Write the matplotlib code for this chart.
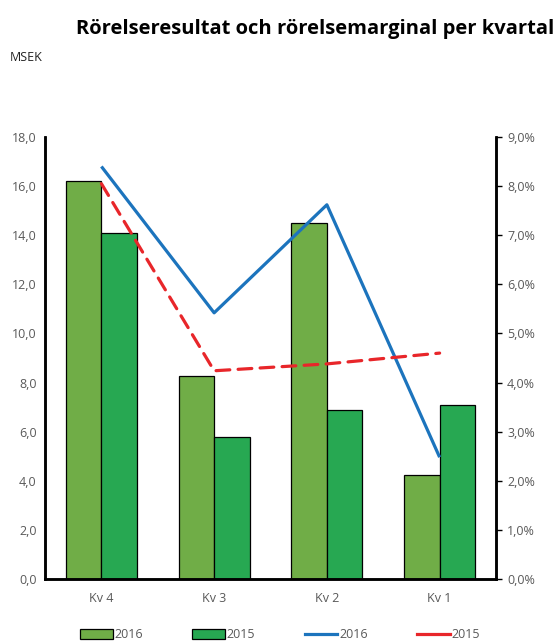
import numpy as np
import matplotlib.pyplot as plt
from matplotlib.lines import Line2D
from matplotlib.patches import Patch

# Data
kvartal = ['Kv 4', 'Kv 3', 'Kv 2', 'Kv 1']
resultat_2016 = [16.2, 8.25, 14.5, 4.25]
resultat_2015 = [14.1, 5.8, 6.9, 7.1]
marginal_2016 = [8.4, 5.42, 7.62, 2.48]
marginal_2015 = [8.05, 4.24, 4.38, 4.6]

green16 = '#70ad47'
green15 = '#27a852'
blue = '#1c74bd'
red = '#e8262a'
grey = '#595959'

plt.rcParams['font.family'] = ['Open Sans', 'DejaVu Sans']

fig = plt.figure(figsize=(5.6, 6.42), dpi=100)
ax = fig.add_axes([0.0804, 0.0981, 0.8053, 0.6885])
ax2 = ax.twinx()

x = np.arange(len(kvartal))
w = 0.315
ax.bar(x - w / 2, resultat_2016, w, color=green16, edgecolor='black', linewidth=0.9, zorder=2)
ax.bar(x + w / 2, resultat_2015, w, color=green15, edgecolor='black', linewidth=0.9, zorder=2)

ax2.plot(x, marginal_2016, color=blue, linewidth=2.3, solid_capstyle='butt')
ax2.plot(x, marginal_2015, color=red, linewidth=2.3, dashes=(4.3, 2.6), dash_capstyle='round')

ax.set_xlim(-0.5, 3.5)
ax.set_ylim(0, 18)
ax2.set_ylim(0, 9)
ax.set_yticks(np.arange(0, 18.1, 2))
ax.set_yticklabels([f'{v:.1f}'.replace('.', ',') for v in np.arange(0, 18.1, 2)])
ax2.set_yticks(np.arange(0, 9.1, 1))
ax2.set_yticklabels([f'{v:.1f}%'.replace('.', ',') for v in np.arange(0, 9.1, 1)])
ax.set_xticks(x)
ax.set_xticklabels(kvartal)

for a in (ax, ax2):
    a.spines['top'].set_visible(False)
    for s in ('left', 'right', 'bottom'):
        a.spines[s].set_linewidth(1.8)
        a.spines[s].set_color('black')
ax.tick_params(axis='y', length=0, labelsize=9, labelcolor=grey, pad=6)
ax.tick_params(axis='x', length=0, labelsize=9, labelcolor=grey, pad=9)
ax2.tick_params(axis='y', length=4, width=1, direction='out', labelsize=9, labelcolor=grey, pad=4)

fig.text(0.99, 0.955, 'Rörelseresultat och rörelsemarginal per kvartal',
         ha='right', va='center', fontsize=14.5, fontweight='bold')
fig.text(0.017, 0.911, 'MSEK', ha='left', va='center', fontsize=9,
         color='#222222')

handles = [Patch(facecolor=green16, edgecolor='black', linewidth=0.9),
           Patch(facecolor=green15, edgecolor='black', linewidth=0.9),
           Line2D([], [], color=blue, linewidth=2.3),
           Line2D([], [], color=red, linewidth=2.3)]
leg = fig.legend(handles, ['2016', '2015', '2016', '2015'], ncol=4, loc='center',
                 bbox_to_anchor=(0.5, 0.011), frameon=False, fontsize=9,
                 handlelength=2.6, handleheight=0.8, handletextpad=0.15, columnspacing=3.95)
for t in leg.get_texts():
    t.set_color(grey)

fig.savefig('out.png', dpi=100)
